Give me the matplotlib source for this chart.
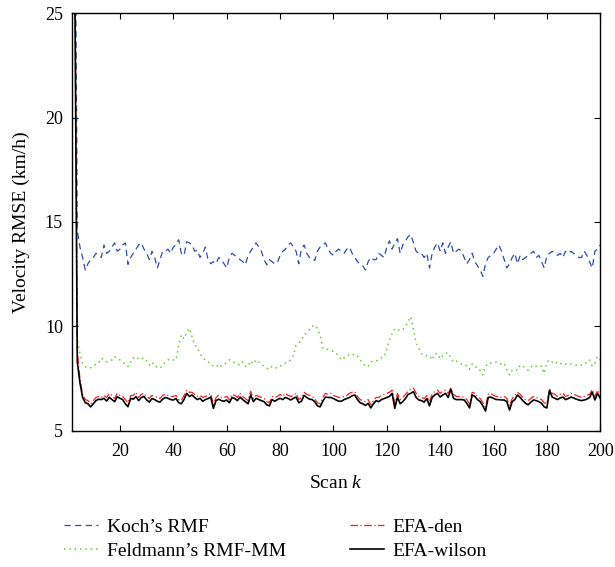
import matplotlib
matplotlib.use("Agg")
import matplotlib.pyplot as plt
import numpy as np

plt.rcParams['font.family'] = ['Liberation Serif', 'DejaVu Serif']
plt.rcParams['mathtext.fontset'] = 'custom'
plt.rcParams['mathtext.rm'] = 'Liberation Serif'
plt.rcParams['mathtext.it'] = 'Liberation Serif:italic'

# --- data ---
scans = np.arange(1, 201)

koch_rmf = [
    70, 55, 35, 14.6, 13.8, 13.3, 12.7, 13.0, 13.2, 13.3,
    13.5, 13.4, 13.3, 13.9, 13.5, 13.6, 13.8, 14.0, 13.6, 13.7,
    13.9, 14.0, 12.97, 13.3, 13.5, 13.7, 13.9, 14.0, 13.7, 13.5,
    13.2, 13.6, 13.3, 12.8, 13.2, 13.6, 13.6, 13.7, 13.5, 13.8,
    13.9, 14.15, 13.5, 13.4, 14.05, 14.0, 13.9, 13.6, 13.65, 13.3,
    13.5, 13.8, 13.2, 13.0, 13.1, 13.0, 13.3, 13.2, 13.0, 12.8,
    13.3, 13.5, 13.4, 13.3, 13.2, 13.1, 12.95, 13.4, 13.6, 13.8,
    14.0, 13.8, 13.6, 13.2, 12.95, 13.2, 13.1, 13.0, 13.05, 13.4,
    13.6, 13.7, 13.9, 14.0, 13.8, 13.6, 13.0, 13.7, 13.9, 13.5,
    13.3, 13.3, 13.15, 13.6, 13.8, 13.9, 14.0, 13.7, 13.5, 13.4,
    13.6, 13.7, 13.6, 13.5, 13.7, 13.8, 13.5, 13.3, 13.1, 13.0,
    12.9, 12.7, 13.1, 13.3, 13.2, 13.2, 13.5, 13.4, 13.3, 13.8,
    14.1, 13.7, 14.0, 14.2, 13.5, 13.9, 14.1, 14.3, 14.4, 14.0,
    13.6, 13.5, 13.5, 13.3, 13.5, 12.8, 13.5, 13.8, 14.0, 13.6,
    14.0, 13.5, 13.8, 14.05, 13.5, 13.6, 13.7, 13.6, 13.3, 13.0,
    13.2, 13.5, 13.1, 12.9, 12.7, 12.4, 13.0, 13.3, 13.4, 13.5,
    13.7, 13.9, 13.6, 13.2, 12.8, 13.0, 13.3, 13.5, 13.0, 13.4,
    13.2, 13.3, 13.4, 13.5, 13.6, 13.3, 13.4, 13.1, 12.8, 13.4,
    13.5, 13.6, 13.5, 13.4, 13.5, 13.3, 13.6, 13.5, 13.6, 13.5,
    13.4, 13.3, 13.3, 13.6, 13.4, 13.1, 12.8, 13.6, 13.7, 13.9,
]

feldmann_rmf_mm = [
    65, 50, 30, 9.4, 8.7, 8.24, 8.08, 8.0, 8.02, 8.1,
    8.2, 8.25, 8.48, 8.4, 8.3, 8.35, 8.4, 8.56, 8.45, 8.4,
    8.3, 8.2, 8.08, 8.3, 8.5, 8.4, 8.5, 8.45, 8.5, 8.35,
    8.15, 8.3, 8.1, 8.05, 8.0, 8.15, 8.3, 8.4, 8.45, 8.4,
    8.4, 9.1, 9.6, 9.4, 9.7, 9.91, 9.5, 9.1, 9.0, 8.7,
    8.5, 8.4, 8.3, 8.2, 8.1, 8.05, 8.2, 8.1, 8.15, 8.3,
    8.4, 8.35, 8.25, 8.2, 8.15, 8.3, 8.1, 8.08, 8.35, 8.2,
    8.4, 8.3, 8.2, 8.1, 8.0, 7.95, 8.1, 8.05, 8.0, 8.1,
    8.2, 8.25, 8.3, 8.4, 8.6, 9.1, 9.2, 9.35, 9.6, 9.7,
    9.85, 10.0, 10.07, 9.9, 9.6, 8.95, 8.95, 8.9, 8.85, 8.8,
    8.7, 8.6, 8.4, 8.5, 8.6, 8.65, 8.7, 8.6, 8.6, 8.4,
    8.24, 8.1, 8.08, 8.3, 8.35, 8.35, 8.4, 8.5, 8.55, 8.9,
    9.35, 9.65, 9.9, 9.85, 9.8, 9.85, 10.0, 10.23, 10.47, 9.85,
    9.19, 8.96, 8.7, 8.6, 8.6, 8.6, 8.4, 8.7, 8.7, 8.45,
    8.6, 8.7, 8.75, 8.5, 8.3, 8.35, 8.25, 8.2, 8.2, 8.1,
    7.95, 8.2, 8.15, 7.95, 7.9, 7.68, 8.1, 8.25, 8.25, 8.25,
    8.3, 8.25, 8.2, 8.25, 7.9, 7.68, 7.9, 7.95, 7.9, 8.15,
    8.1, 8.0, 7.9, 8.05, 8.15, 8.1, 8.05, 8.1, 7.75, 8.3,
    8.4, 8.3, 8.2, 8.3, 8.25, 8.15, 8.2, 8.2, 8.2, 8.2,
    8.15, 8.2, 8.15, 8.2, 8.3, 8.4, 8.1, 8.25, 8.56, 8.4,
]

efa_den = [
    62, 47, 30, 8.8, 7.5, 6.75, 6.5, 6.45, 6.3, 6.45,
    6.6, 6.65, 6.6, 6.7, 6.6, 6.8, 6.7, 6.55, 6.8, 6.7,
    6.65, 6.5, 6.35, 6.7, 6.7, 6.85, 6.6, 6.75, 6.8, 6.65,
    6.55, 6.7, 6.65, 6.6, 6.55, 6.7, 6.75, 6.7, 6.65, 6.65,
    6.7, 6.5, 6.45, 6.7, 6.95, 6.85, 6.85, 6.75, 6.65, 6.7,
    6.6, 6.65, 6.7, 6.8, 6.25, 6.6, 6.7, 6.6, 6.6, 6.65,
    6.5, 6.75, 6.7, 6.6, 6.8, 6.65, 6.55, 6.45, 6.9, 6.55,
    6.7, 6.65, 6.6, 6.55, 6.4, 6.35, 6.65, 6.6, 6.65, 6.75,
    6.65, 6.8, 6.7, 6.65, 6.7, 6.8, 6.5, 6.6, 6.85, 6.75,
    6.7, 6.65, 6.55, 6.35, 6.3, 6.6, 6.8, 6.75, 6.8, 6.7,
    6.65, 6.6, 6.6, 6.65, 6.7, 6.8, 6.85, 6.88, 6.65, 6.5,
    6.45, 6.4, 6.5, 6.25, 6.45, 6.6, 6.6, 6.7, 6.75, 6.8,
    6.85, 6.95, 6.3, 6.8, 6.5, 6.6, 6.75, 6.9, 7.0, 7.05,
    6.8, 6.65, 6.6, 6.55, 6.7, 6.4, 6.75, 6.9, 6.95, 6.8,
    6.9, 6.95, 6.8, 7.05, 6.75, 6.65, 6.65, 6.65, 6.6, 6.5,
    6.3, 6.85, 6.8, 6.65, 6.55, 6.35, 6.15, 6.75, 6.8, 6.7,
    6.65, 6.65, 6.6, 6.65, 6.55, 6.2, 6.55, 6.7, 6.85, 6.75,
    6.6, 6.5, 6.45, 6.55, 6.65, 6.6, 6.55, 6.5, 6.35, 6.3,
    7.0, 6.8, 6.75, 6.65, 6.75, 6.8, 6.65, 6.7, 6.8, 6.75,
    6.7, 6.65, 6.6, 6.65, 6.7, 6.75, 6.98, 6.65, 6.95, 6.75,
]

efa_wilson = [
    60, 45, 28, 8.3, 7.3, 6.6, 6.35, 6.3, 6.15, 6.3,
    6.45, 6.52, 6.5, 6.56, 6.43, 6.61, 6.5, 6.4, 6.64, 6.56,
    6.5, 6.3, 6.16, 6.56, 6.52, 6.64, 6.45, 6.6, 6.65, 6.48,
    6.38, 6.55, 6.5, 6.42, 6.38, 6.52, 6.6, 6.56, 6.5, 6.48,
    6.55, 6.35, 6.3, 6.5, 6.8, 6.65, 6.72, 6.6, 6.5, 6.56,
    6.42, 6.5, 6.55, 6.62, 6.08, 6.45, 6.52, 6.45, 6.42, 6.48,
    6.35, 6.6, 6.55, 6.45, 6.62, 6.5, 6.4, 6.3, 6.72, 6.4,
    6.56, 6.5, 6.45, 6.4, 6.25, 6.2, 6.5, 6.42, 6.5, 6.56,
    6.5, 6.6, 6.55, 6.48, 6.56, 6.62, 6.35, 6.42, 6.7, 6.6,
    6.52, 6.5, 6.4, 6.2, 6.15, 6.42, 6.62, 6.6, 6.6, 6.55,
    6.48, 6.42, 6.42, 6.5, 6.55, 6.6, 6.68, 6.72, 6.5, 6.35,
    6.3, 6.22, 6.32, 6.1, 6.3, 6.45, 6.4, 6.5, 6.55, 6.6,
    6.65, 6.8, 6.08, 6.62, 6.3, 6.4, 6.55, 6.75, 6.8, 6.88,
    6.6, 6.48, 6.45, 6.38, 6.55, 6.2, 6.6, 6.72, 6.8, 6.62,
    6.72, 6.8, 6.6, 7.0, 6.56, 6.5, 6.5, 6.5, 6.48, 6.32,
    6.1, 6.72, 6.65, 6.5, 6.4, 6.2, 5.95, 6.6, 6.62, 6.56,
    6.5, 6.5, 6.48, 6.48, 6.4, 6.0, 6.4, 6.5, 6.72, 6.6,
    6.45, 6.32, 6.25, 6.38, 6.48, 6.45, 6.4, 6.32, 6.15, 6.1,
    6.95, 6.62, 6.56, 6.5, 6.58, 6.62, 6.5, 6.55, 6.62, 6.58,
    6.52, 6.48, 6.45, 6.48, 6.52, 6.6, 6.85, 6.48, 6.8, 6.56,
]

x_ticks = [20, 40, 60, 80, 100, 120, 140, 160, 180, 200]
y_ticks = [5, 10, 15, 20, 25]

# --- figure ---
fig = plt.figure(figsize=(6.15, 5.67), dpi=100)
ax = fig.add_axes([0.117, 0.24, 0.859, 0.737])

ax.plot(scans, koch_rmf, color='#2d4ea8', linestyle=(0, (5, 3.5)), linewidth=0.9,
        label="Koch\u2019s RMF")
ax.plot(scans, feldmann_rmf_mm, color='#66cc33', linestyle=(0, (1, 2.5)), linewidth=1.1,
        label="Feldmann\u2019s RMF-MM")
ax.plot(scans, efa_den, color='#ee2222', linestyle=(0, (6, 2, 1, 2)), linewidth=0.9,
        label="EFA-den")
ax.plot(scans, efa_wilson, color='black', linestyle='-', linewidth=1.2,
        label="EFA-wilson")

ax.set_xlim(2, 200)
ax.set_ylim(5, 25)
ax.set_xticks(x_ticks)
ax.set_yticks(y_ticks)
ax.tick_params(direction='in', length=4, width=0.8, top=True, right=True, labelsize=13)
ax.tick_params(axis='x', pad=8.5)
ax.tick_params(axis='y', pad=6.5)
for sp in ax.spines.values():
    sp.set_linewidth(1.0)

ax.set_xlabel("Scan $k$", fontsize=14, labelpad=11)
ax.set_ylabel("Velocity RMSE (km/h)", fontsize=14, labelpad=11)

fig.legend(loc='upper left', bbox_to_anchor=(0.104, 0.086), ncol=2, frameon=False,
           fontsize=14, handlelength=1.75, handletextpad=0.45, columnspacing=3.3,
           labelspacing=0.34, borderaxespad=0, borderpad=0)

fig.savefig("out.png", dpi=100)
